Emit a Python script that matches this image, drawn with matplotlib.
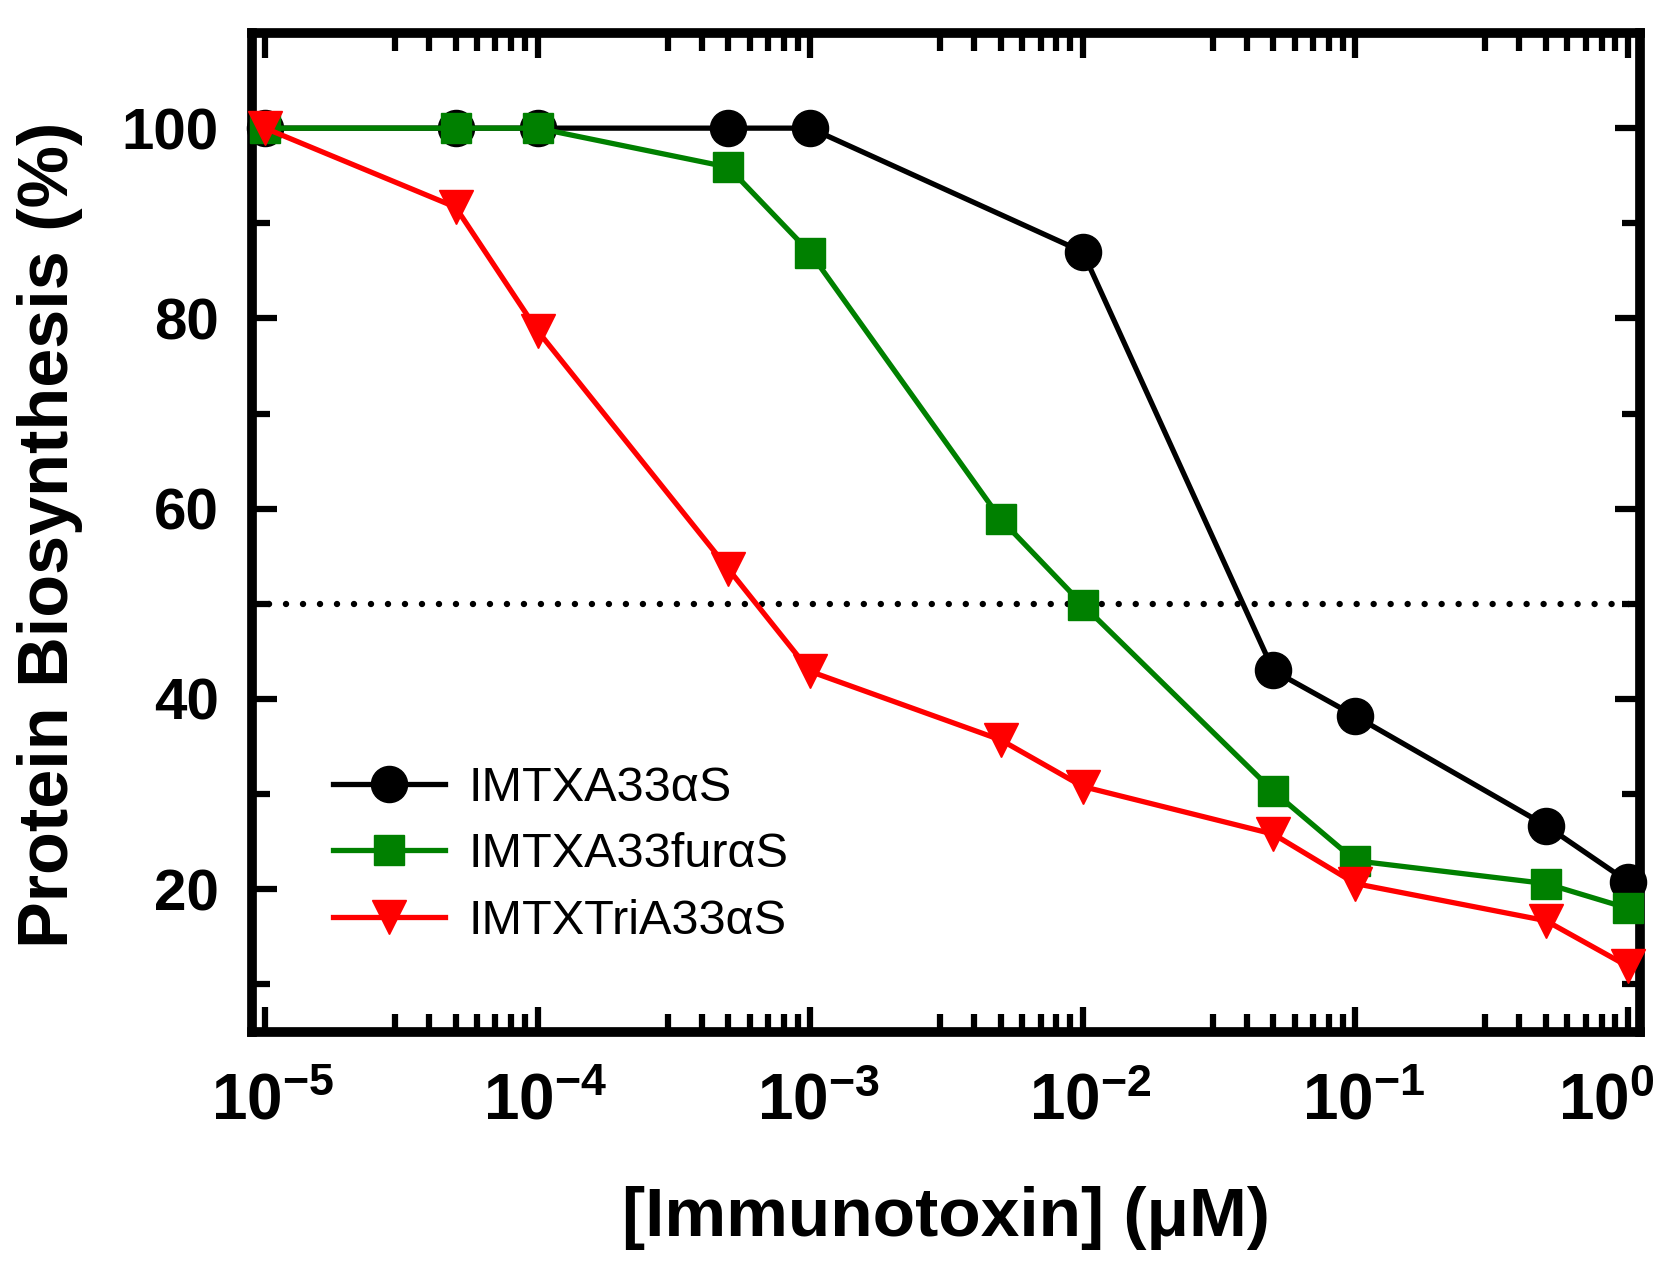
import math
import matplotlib
matplotlib.use('Agg')
import matplotlib.pyplot as plt
import matplotlib.transforms as mtransforms
from matplotlib.ticker import FixedLocator, FuncFormatter, NullFormatter

plt.rcParams['font.family'] = ['Liberation Sans', 'DejaVu Sans']
plt.rcParams['mathtext.fontset'] = 'custom'
plt.rcParams['mathtext.rm'] = 'Liberation Sans:bold'
plt.rcParams['mathtext.bf'] = 'Liberation Sans:bold'
plt.rcParams['mathtext.it'] = 'Liberation Sans:bold'
plt.rcParams['mathtext.sf'] = 'Liberation Sans:bold'

# ---------------- data ----------------
conc_a33 = [1e-5, 5e-5, 1e-4, 5e-4, 1e-3, 1e-2, 5e-2, 1e-1, 5e-1, 1.0]
vals_a33 = [100, 100, 100, 100, 100, 87.0, 43.0, 38.2, 26.7, 20.8]

conc_fur = [1e-5, 5e-5, 1e-4, 5e-4, 1e-3, 5e-3, 1e-2, 5e-2, 1e-1, 5e-1, 1.0]
vals_fur = [100, 100, 100, 95.9, 86.9, 58.9, 49.9, 30.3, 23.0, 20.6, 18.0]

conc_tri = [1e-5, 5e-5, 1e-4, 5e-4, 1e-3, 5e-3, 1e-2, 5e-2, 1e-1, 5e-1, 1.0]
vals_tri = [100, 91.7, 78.7, 53.7, 42.9, 35.7, 30.8, 25.8, 20.6, 16.7, 11.9]

series_labels = ['IMTXA33\u03b1S', 'IMTXA33fur\u03b1S', 'IMTXTriA33\u03b1S']
half_level = 50

x_major = [1e-5, 1e-4, 1e-3, 1e-2, 1e-1, 1.0]
x_minor = [m * d for d in [1e-5, 1e-4, 1e-3, 1e-2, 1e-1] for m in [3, 4, 5, 6, 7, 8, 9]]
y_major = [20, 40, 60, 80, 100]
y_minor = [10, 30, 50, 70, 90]

xlabel = '[Immunotoxin] (\u03bcM)'
ylabel = 'Protein Biosynthesis (%)'

# ---------------- figure ----------------
W, H = 1671, 1276
fig = plt.figure(figsize=(W / 100, H / 100), dpi=100)
L, R, T, B = 252, 1640, 33, 1032
ax = fig.add_axes([L / W, 1 - B / H, (R - L) / W, (B - T) / H])

ax.set_xscale('log')
ax.set_xlim(8.96e-6, 1.107)
ax.set_ylim(5, 110)

ax.axhline(half_level, color='black', lw=4.6, linestyle=(0, (0.01, 2.65)),
           dash_capstyle='round', zorder=1)

lw = 3.8
ax.plot(conc_a33, vals_a33, color='black', lw=lw, marker='o', ms=26,
        mfc='black', mec='black', mew=1, clip_on=False, zorder=3,
        label=series_labels[0])
ax.plot(conc_fur, vals_fur, color='#008000', lw=lw, marker='s', ms=21.5,
        mfc='#008000', mec='#008000', mew=1, clip_on=False, zorder=4,
        label=series_labels[1])
ax.plot(conc_tri, vals_tri, color='#ff0000', lw=lw, marker='v', ms=25,
        mfc='#ff0000', mec='#ff0000', mew=1, clip_on=False, zorder=5,
        label=series_labels[2])

for s in ax.spines.values():
    s.set_linewidth(7)

ax.xaxis.set_major_locator(FixedLocator(x_major))
ax.xaxis.set_minor_locator(FixedLocator(x_minor))
ax.xaxis.set_major_formatter(FuncFormatter(lambda v, p: r'$\mathbf{10^{%d}}$' % round(math.log10(v))))
ax.xaxis.set_minor_formatter(NullFormatter())
ax.yaxis.set_major_locator(FixedLocator(y_major))
ax.yaxis.set_minor_locator(FixedLocator(y_minor))

ax.tick_params(which='both', direction='in', top=True, right=True, width=4.5, color='black')
ax.tick_params(which='major', length=18)
ax.tick_params(which='minor', length=13)
ax.tick_params(axis='x', which='major', labelsize=46, pad=29)
ax.tick_params(axis='y', which='major', labelsize=42, pad=24)
for t in ax.get_yticklabels():
    t.set_fontweight('bold')

# shift x tick labels slightly (last one pulled left to stay inside the figure)
xlabels = ax.get_xticklabels()
for i, t in enumerate(xlabels):
    dx = 8 if i < len(xlabels) - 1 else -22
    t.set_transform(t.get_transform() + mtransforms.ScaledTranslation(dx / 100, 0, fig.dpi_scale_trans))

fig.text(946 / W, 1 - 1218 / H, xlabel, ha='center', va='center',
         fontsize=50, fontweight='bold')
fig.text(50 / W, 1 - 535 / H, ylabel, ha='center', va='center',
         rotation=90, fontsize=50.5, fontweight='bold')

leg = ax.legend(loc='upper left', bbox_to_anchor=(333 / W, 1 - 766 / H),
                bbox_transform=fig.transFigure, frameon=False, fontsize=35,
                handlelength=2.3, handletextpad=0.48, labelspacing=0.44,
                borderpad=0, borderaxespad=0, numpoints=1)

fig.savefig('out.png', dpi=100)
